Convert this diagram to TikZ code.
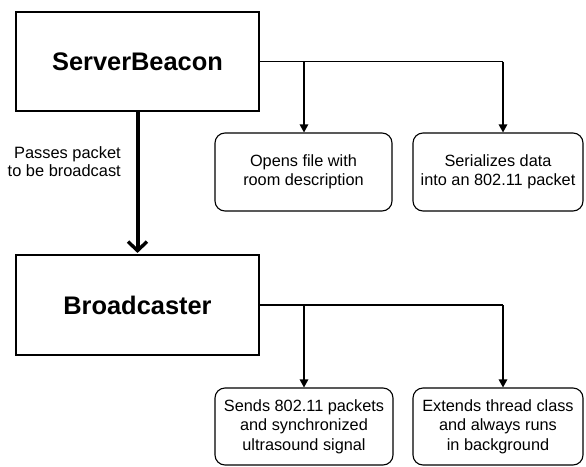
\documentclass[tikz,border=0pt]{standalone}
\usepackage{fontspec}
\setmainfont{Liberation Sans}
\usetikzlibrary{arrows.meta}
\begin{document}
\begin{tikzpicture}[x=1pt,y=-1pt,
  classbox/.style={draw, line width=1.1pt, minimum width=243pt,
    font=\fontsize{25.4}{30}\selectfont\bfseries, inner sep=0pt},
  taskbox/.style={draw, line width=1.1pt, rounded corners=10pt, align=center,
    inner sep=0pt, font=\fontsize{16.3}{19.5}\selectfont},
  link/.style={line width=1.3pt, -{Triangle[length=8pt,width=8.5pt]}},
  pass/.style={line width=4pt, shorten >=1.5pt,
    -{Straight Barb[length=9pt,width=19pt,line width=3.4pt]}}]
\useasboundingbox (0,0) rectangle (586,466);
% class boxes
\node[classbox, minimum height=99pt] (sb) at (137.5,61.5) {ServerBeacon};
\node[classbox, minimum height=100pt] (bc) at (137.5,305) {Broadcaster};
% task boxes
\node[taskbox, minimum width=177pt, minimum height=78pt] (open) at (303.5,172) {Opens file with\\room description};
\node[taskbox, minimum width=170pt, minimum height=78pt] (ser) at (498,172) {Serializes data\\into an 802.11 packet};
\node[taskbox, minimum width=178pt, minimum height=77pt] (send) at (304,426.5) {Sends 802.11 packets\\and synchronized\\ultrasound signal};
\node[taskbox, minimum width=170pt, minimum height=77pt] (ext) at (498,426.5) {Extends thread class\\and always runs\\in background};
% branch points on the outgoing lines
\coordinate (sbj1) at (304,61.5);
\coordinate (sbj2) at (503,61.5);
\coordinate (bcj1) at (304,305);
\coordinate (bcj2) at (503,305);
% connectors
\draw[line width=1.3pt] (sb.east) -- (sbj2);
\draw[link] (sbj1) -- (sbj1 |- open.north);
\draw[link] (sbj2) -- (sbj2 |- ser.north);
\draw[line width=1.3pt] (bc.east) -- (bcj2);
\draw[link] (bcj1) -- (bcj1 |- send.north);
\draw[link] (bcj2) -- (bcj2 |- ext.north);
\draw[pass] (sb.south) -- (bc.north);
\node[anchor=east, align=right, font=\fontsize{16.4}{18}\selectfont, inner sep=0pt] (lbl) at (121,162) {Passes packet\\to be broadcast};
\end{tikzpicture}
\end{document}
